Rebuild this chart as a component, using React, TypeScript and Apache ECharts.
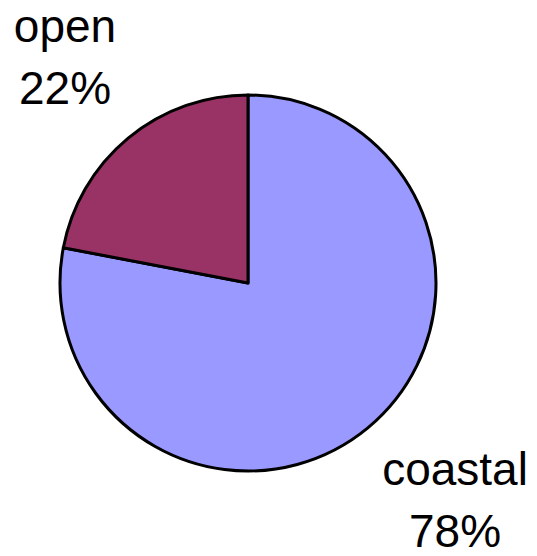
import React, { useEffect, useRef } from "react";
import * as echarts from "echarts";

const categories = ["coastal", "open"];
const values = [78, 22];
const colors = ["#9999FF", "#993366"];

export default function App() {
  const ref = useRef<HTMLDivElement>(null);
  useEffect(() => {
    if (!ref.current) return;
    const chart = echarts.init(ref.current, undefined, { renderer: "svg" });
    const labelPos = [
      { x: 455, y: 500 },
      { x: 65, y: 57 },
    ];
    chart.setOption({
      animation: false,
      backgroundColor: "#ffffff",
      series: [
        {
          type: "pie",
          center: [248, 283],
          radius: 188,
          startAngle: 90,
          clockwise: true,
          data: categories.map((c, i) => ({
            name: c,
            value: values[i],
            itemStyle: { color: colors[i] },
          })),
          itemStyle: { borderColor: "#000000", borderWidth: 3 },
          label: {
            show: true,
            position: "outside",
            formatter: "{b}\n{d}%",
            fontFamily: "Liberation Sans, Arial, sans-serif",
            fontSize: 46,
            lineHeight: 62,
            color: "#000000",
            align: "center",
            overflow: "none",
            bleedMargin: 0,
          },
          labelLine: { show: false },
          labelLayout: (params: any) => {
            const p = labelPos[params.dataIndex];
            return { x: p.x, y: p.y, align: "center", verticalAlign: "middle" };
          },
          emphasis: { disabled: true },
        },
      ],
    });
    return () => chart.dispose();
  }, []);
  return (
    <div
      ref={ref}
      style={{ position: "absolute", left: 0, top: 0, width: 537, height: 556 }}
    />
  );
}
